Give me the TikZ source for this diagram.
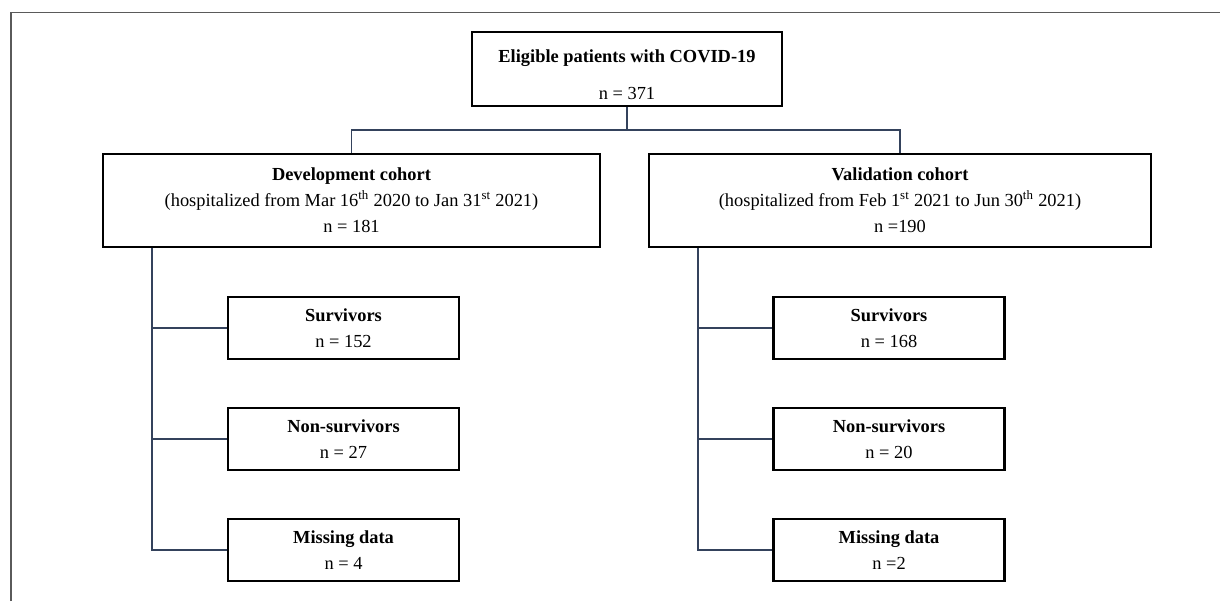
\documentclass[tikz,border=0pt]{standalone}
\usepackage{fontspec}
\setmainfont{Liberation Serif}
\usepackage{tikz}
\usetikzlibrary{positioning,calc}
\definecolor{linkblue}{RGB}{52,66,92}
\definecolor{framegray}{RGB}{90,90,90}
\tikzset{
    flowbox/.style={draw=black, line width=1.8pt, fill=white, align=center, inner sep=0pt,
        font=\fontsize{13.8}{19.5}\selectfont},
    topbox/.style={flowbox, minimum width=232.5pt, minimum height=55.5pt},
    cohortbox/.style={flowbox, minimum height=69.75pt},
    childbox/.style={flowbox, minimum width=173.25pt, minimum height=46.5pt},
    link/.style={draw=linkblue, line width=1.4pt},
    frameline/.style={draw=framegray, line width=1.3pt}
}

\begin{document}
\begin{tikzpicture}[x=0.75pt, y=-0.75pt]
        \useasboundingbox (0,0) rectangle (1220,601);
        \draw[frameline] (11,601) |- (1220,12.5);

        \node[topbox] (eligible) at (627,69) {\rule{0pt}{18pt}\textbf{Eligible patients with COVID-19}\\[8.25pt] n = 371};
        \node[cohortbox, minimum width=372.75pt] (devcohort) at (351.5,200.5) {\textbf{Development cohort}\\(hospitalized from Mar 16\textsuperscript{th} 2020 to Jan 31\textsuperscript{st} 2021)\\n = 181};
        \node[cohortbox, minimum width=376.5pt] (valcohort) at (900,200.5) {\textbf{Validation cohort}\\(hospitalized from Feb 1\textsuperscript{st} 2021 to Jun 30\textsuperscript{th} 2021)\\n =190};

        \node[childbox] (devsurv) at (343.5,328) {\textbf{Survivors}\\n = 152};
        \node[childbox] (devnonsurv) at (343.5,439) {\textbf{Non-survivors}\\n = 27};
        \node[childbox] (devmissing) at (343.5,550) {\textbf{Missing data}\\n = 4};

        \node[childbox] (valsurv) at (889,328) {\textbf{Survivors}\\n = 168};
        \node[childbox] (valnonsurv) at (889,439) {\textbf{Non-survivors}\\n = 20};
        \node[childbox] (valmissing) at (889,550) {\textbf{Missing data}\\n =2};

        % split into the two cohorts
        \draw[link] (eligible.south) -- ++(0,23) -| (devcohort.north);
        \draw[link] (eligible.south) -- ++(0,23) -| (valcohort.north);

        % development outcomes
        \draw[link] (devcohort.south west) ++(50,0) coordinate (devtrunk) |- (devmissing.west);
        \draw[link] (devtrunk |- devsurv.west) -- (devsurv.west);
        \draw[link] (devtrunk |- devnonsurv.west) -- (devnonsurv.west);

        % validation outcomes
        \draw[link] (valcohort.south west) ++(50,0) coordinate (valtrunk) |- (valmissing.west);
        \draw[link] (valtrunk |- valsurv.west) -- (valsurv.west);
        \draw[link] (valtrunk |- valnonsurv.west) -- (valnonsurv.west);
    \end{tikzpicture}
\end{document}
